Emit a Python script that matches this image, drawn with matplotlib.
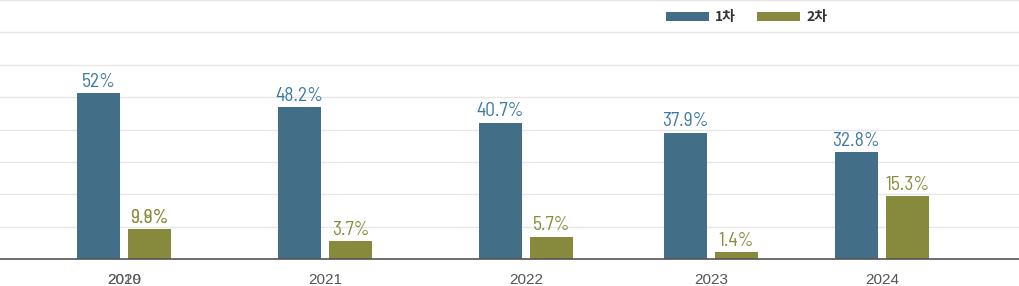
import matplotlib.pyplot as plt

years = ['2020', '2021', '2022', '2023', '2024']
hidden_year = '2019'

# bar heights as drawn in the picture (grid = 10)
cha1 = [51.3, 47.0, 42.1, 39.0, 33.0]
cha2 = [9.3, 5.6, 6.9, 2.2, 19.5]
labels1 = ['52%', '48.2%', '40.7%', '37.9%', '32.8%']
labels2 = ['9.9%', '3.7%', '5.7%', '1.4%', '15.3%']
hidden_label2 = '9.8%'

# layout: group centres on a 0..1020 axis
group_x = [124, 325, 526, 711, 882]
bar_w = 43
off = 25.5

c1, c2 = '#436e87', '#878a3d'
t1, t2 = '#3b79a3', '#8a8b3a'
num_font = ['Barlow Semi Condensed', 'DejaVu Sans']

fig = plt.figure(figsize=(10.2, 2.86), dpi=100)
ax = fig.add_axes([0, 27 / 286, 1, 259 / 286])
ax.set_xlim(0, 1020)
ax.set_ylim(0, 80)

x1 = [g - off for g in group_x]
x2 = [g + off for g in group_x]
b1 = ax.bar(x1, cha1, width=bar_w, color=c1, label='1차', zorder=3)
b2 = ax.bar(x2, cha2, width=bar_w, color=c2, label='2차', zorder=3)

lab = dict(textcoords='offset points', ha='center', va='baseline',
           fontsize=14, family=num_font)
for x, h, s in zip(x1, cha1, labels1):
    ax.annotate(s, (x, h), xytext=(0, 4.5), color=t1, **lab)
for x, h, s in zip(x2, cha2, labels2):
    ax.annotate(s, (x, h), xytext=(0, 4.5), color=t2, **lab)
ax.annotate(hidden_label2, (x2[0], cha2[0]), xytext=(0, 4.5), color=t2, alpha=0.8, **lab)

ax.set_yticks(range(0, 81, 10))
ax.yaxis.grid(True, color='#e6e6e6', lw=1, zorder=0)
ax.tick_params(axis='y', left=False, labelleft=False)
ax.set_xticks(group_x, years)
ax.tick_params(axis='x', length=0, pad=10, labelsize=11, labelcolor='#555555')
for t in ax.get_xticklabels():
    t.set_family('Liberation Sans')
ax.annotate(hidden_year, (group_x[0], 0), xycoords=('data', 'axes fraction'),
            xytext=(0, -10), textcoords='offset points', ha='center', va='top',
            fontsize=11, color='#555555', family='Liberation Sans', alpha=0.8)

for s in ['top', 'left', 'right']:
    ax.spines[s].set_visible(False)
ax.spines['bottom'].set_color('#555555')
ax.spines['bottom'].set_linewidth(1.2)
ax.spines['bottom'].set_zorder(4)

fig.legend(handles=[b1, b2], loc='center left', bbox_to_anchor=(666 / 1020, 1 - 17.5 / 286),
           ncol=2, frameon=False, borderpad=0, borderaxespad=0,
           handlelength=3.1, handleheight=0.65, handletextpad=0.45, columnspacing=1.5,
           prop={'family': ['Noto Sans CJK KR', 'DejaVu Sans'], 'size': 10, 'weight': 'bold'},
           labelcolor='#333333')

fig.savefig('out.png', dpi=100, facecolor='white')
